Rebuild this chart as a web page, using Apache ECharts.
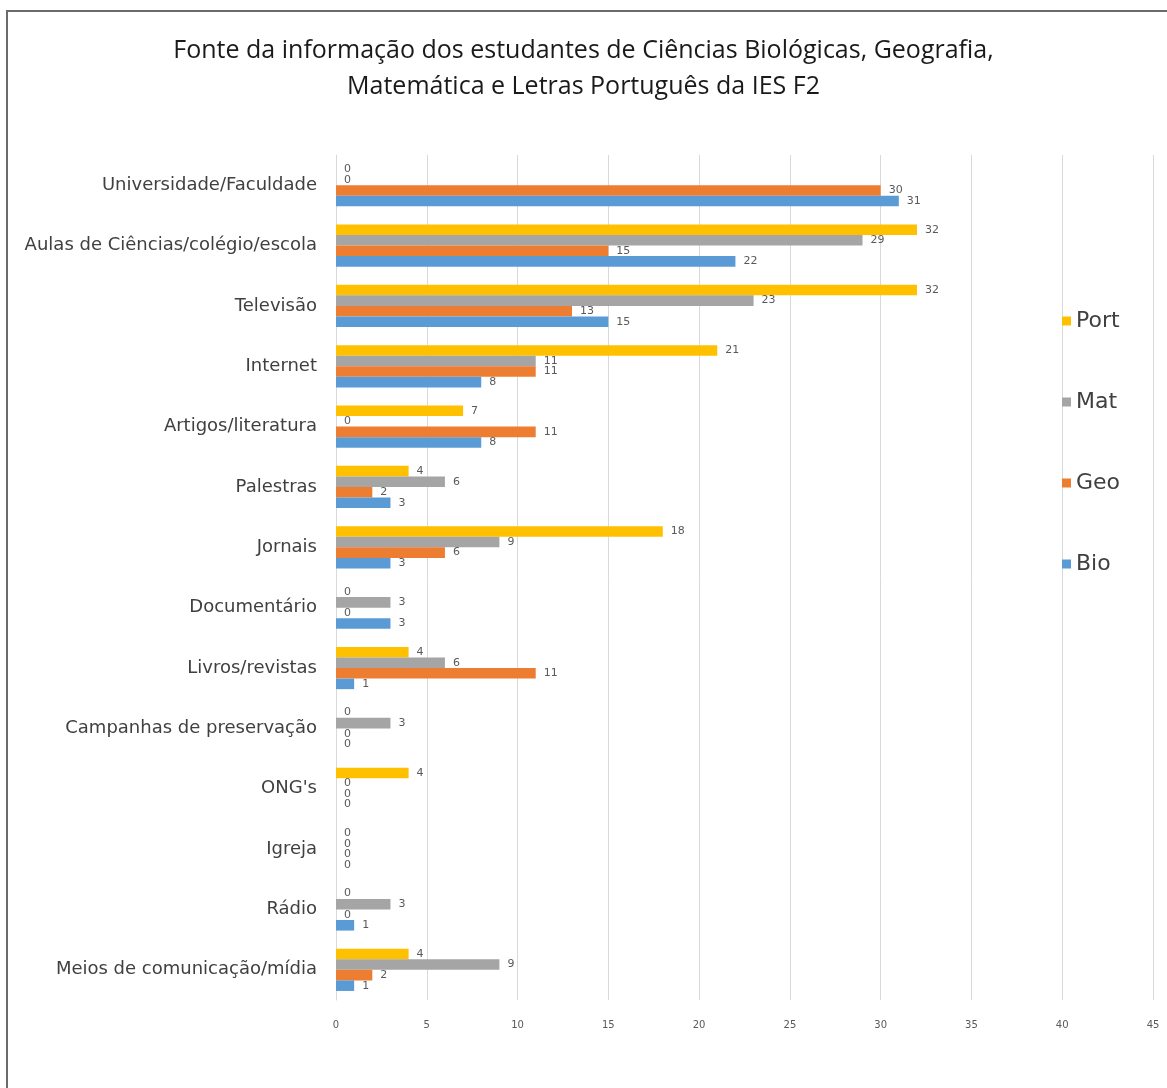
<!DOCTYPE html>
<html>
<head>
<meta charset="utf-8">
<title>Fonte da informação</title>
<script src="https://cdn.jsdelivr.net/npm/echarts@6/dist/echarts.min.js"></script>
<style>
  html, body { margin: 0; padding: 0; background: #fff; }
  #chart { position: absolute; left: 0; top: 0; width: 1167px; height: 1088px; }
  #frame { position: absolute; left: 6px; top: 10px; width: 1170px; height: 1090px;
           border-left: 2px solid #6b6b6b; border-top: 2px solid #6b6b6b; pointer-events: none; }
</style>
</head>
<body>
<div id="chart"></div>
<div id="frame"></div>
<script>
// categories, top to bottom
const categories = [
  'Universidade/Faculdade',
  'Aulas de Ciências/colégio/escola',
  'Televisão',
  'Internet',
  'Artigos/literatura',
  'Palestras',
  'Jornais',
  'Documentário',
  'Livros/revistas',
  'Campanhas de preservação',
  'ONG\'s',
  'Igreja',
  'Rádio',
  'Meios de comunicação/mídia'
]

const port = [0, 32, 32, 21, 7, 4, 18, 0, 4, 0, 4, 0, 0, 4]
const mat = [0, 29, 23, 11, 0, 6, 9, 3, 6, 3, 0, 0, 3, 9]
const geo = [30, 15, 13, 11, 11, 2, 6, 0, 11, 0, 0, 0, 0, 2]
const bio = [31, 22, 15, 8, 8, 3, 3, 3, 1, 0, 0, 0, 1, 1]

const chart = echarts.init(document.getElementById('chart'))

function barSeries (name, data, color) {
  return {
    name: name,
    type: 'bar',
    data: data,
    barGap: '0%',
    barCategoryGap: '30%',
    itemStyle: { color: color },
    label: {
      show: true,
      position: 'right',
      distance: 8,
      fontSize: 11,
      color: '#595959',
      fontFamily: 'DejaVu Sans'
    },
    animation: false
  }
}

chart.setOption({
  title: {
    text: 'Fonte da informação dos estudantes de Ciências Biológicas, Geografia,\nMatemática e Letras Português da IES F2',
    left: 'center',
    top: 28,
    textStyle: {
      fontFamily: 'Open Sans',
      fontWeight: 'normal',
      fontSize: 25,
      lineHeight: 36,
      color: '#1a1a1a'
    }
  },
  legend: {
    orient: 'vertical',
    left: 1057,
    top: 305,
    itemWidth: 9,
    itemHeight: 9,
    itemGap: 59,
    icon: 'rect',
    data: ['Port', 'Mat', 'Geo', 'Bio'],
    textStyle: { fontSize: 22, color: '#404040', fontFamily: 'DejaVu Sans' }
  },
  grid: {
    left: 336,
    right: 14,
    top: 155,
    bottom: 88
  },
  xAxis: {
    type: 'value',
    min: 0,
    max: 45,
    interval: 5,
    axisLine: { show: false },
    axisTick: { show: false },
    axisLabel: { fontSize: 10, color: '#595959', margin: 20, fontFamily: 'DejaVu Sans' },
    splitLine: { lineStyle: { color: '#d9d9d9' } }
  },
  yAxis: {
    type: 'category',
    inverse: true,
    data: categories,
    axisLine: { lineStyle: { color: '#d9d9d9' } },
    axisTick: { show: false },
    axisLabel: { fontSize: 18, color: '#404040', margin: 19, fontFamily: 'DejaVu Sans' }
  },
  series: [
    barSeries('Port', port, '#FFC000'),
    barSeries('Mat', mat, '#A5A5A5'),
    barSeries('Geo', geo, '#ED7D31'),
    barSeries('Bio', bio, '#5B9BD5')
  ]
})
</script>
</body>
</html>
